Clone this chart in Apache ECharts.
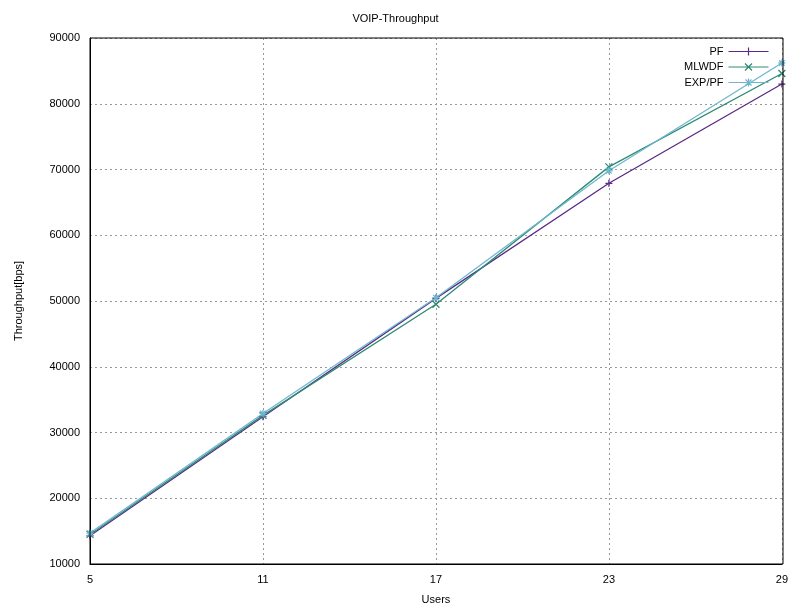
<!DOCTYPE html>
<html><head><meta charset="utf-8">
<script src="https://cdn.jsdelivr.net/npm/echarts@6/dist/echarts.min.js"></script>
<style>html,body{margin:0;padding:0;background:#fff}#c{width:791px;height:611px}</style>
</head><body><div id="c"></div>
<script>
var users = [5, 11, 17, 23, 29];
var pf = [14300, 32400, 50400, 67900, 83000];
var mlwdf = [14500, 32600, 49500, 70400, 84600];
var exppf = [14700, 32900, 50500, 69800, 86200];
var seriesNames = ['PF', 'MLWDF', 'EXP/PF'];

var plus = 'path://M5,0L5,10M0,5L10,5';
var cross = 'path://M0,0L10,10M10,0L0,10';
var star = 'path://M5,0L5,10M0,5L10,5M1,1L9,9M9,1L1,9';
var legPlus = 'path://M0,5L40,5M20,1L20,9M16,5L24,5';
var legCross = 'path://M0,5L40,5M16.5,1.5L23.5,8.5M23.5,1.5L16.5,8.5';
var legStar = 'path://M0,5L40,5M20,1L20,9M16,5L24,5M17,2L23,8M23,2L17,8';
var colors = ['#5b2a86', '#2e8b74', '#6fb6d0'];
var symbols = [plus, cross, star];
var legIcons = [legPlus, legCross, legStar];
var datas = [pf, mlwdf, exppf];

var chart = echarts.init(document.getElementById('c'));
var font = 'Liberation Sans, Arial, sans-serif';
chart.setOption({
  animation: false,
  backgroundColor: '#fff',
  title: { text: 'VOIP-Throughput', left: 'center', top: 8,
    textStyle: { fontSize: 11, fontWeight: 'normal', color: '#000', fontFamily: font } },
  grid: { left: 90, right: 8, top: 38, bottom: 47 },
  legend: {
    right: 15, top: 40, orient: 'vertical', align: 'right',
    itemWidth: 40, itemHeight: 10, itemGap: 3,
    textStyle: { fontSize: 11, color: '#000', fontFamily: font },
    data: seriesNames.map(function (n, i) {
      return { name: n, icon: legIcons[i],
        itemStyle: { color: 'none', borderColor: colors[i], borderWidth: 1.2 } };
    })
  },
  xAxis: {
    type: 'value', min: 5, max: 29, interval: 6,
    name: 'Users', nameLocation: 'middle', nameGap: 30,
    nameTextStyle: { fontSize: 11, color: '#000', fontFamily: font },
    axisLine: { show: true, lineStyle: { color: '#000', width: 1 } },
    axisTick: { show: false },
    axisLabel: { fontSize: 11, color: '#000', fontFamily: font, margin: 10,
      formatter: function (v) { return String(v); } },
    splitLine: { show: true, lineStyle: { color: '#999', type: [2, 3], width: 1 } }
  },
  yAxis: {
    type: 'value', min: 10000, max: 90000, interval: 10000,
    name: 'Throughput[bps]', nameLocation: 'middle', nameGap: 66,
    nameTextStyle: { fontSize: 11, color: '#000', fontFamily: font },
    axisLine: { show: true, lineStyle: { color: '#000', width: 1 } },
    axisTick: { show: false },
    axisLabel: { fontSize: 11, color: '#000', fontFamily: font, margin: 10,
      formatter: function (v) { return String(v); } },
    splitLine: { show: true, lineStyle: { color: '#999', type: [2, 3], width: 1 } }
  },
  graphic: [{
    type: 'rect', shape: { x: 90, y: 38, width: 693, height: 526 },
    style: { fill: 'none', stroke: '#000', lineWidth: 1 }, silent: true, z: 100
  }],
  series: datas.map(function (d, i) {
    return {
      name: seriesNames[i], type: 'line',
      data: users.map(function (u, j) { return [u, d[j]]; }),
      symbol: symbols[i], symbolSize: 7, showSymbol: true,
      color: colors[i],
      lineStyle: { color: colors[i], width: 1.3 },
      itemStyle: { color: 'none', borderColor: colors[i], borderWidth: 1.3 }
    };
  })
});
</script></body></html>
